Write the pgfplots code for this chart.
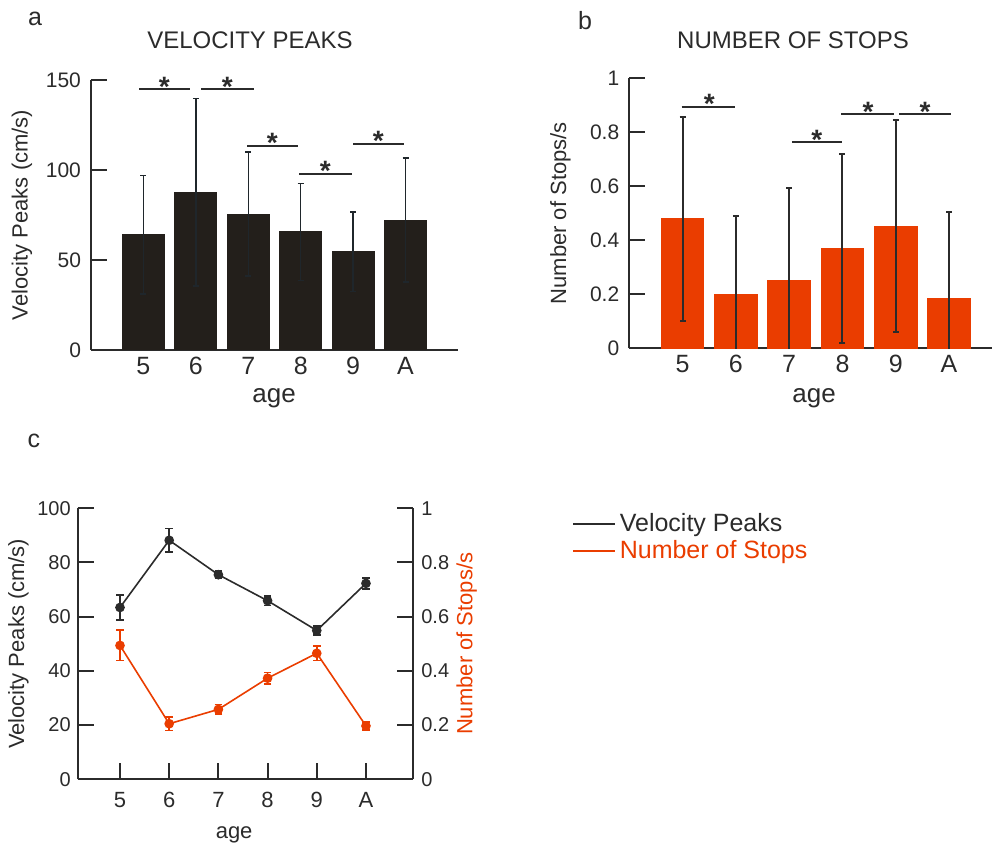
\documentclass[border=0pt]{standalone}
\usepackage{pgfplots}
\pgfplotsset{compat=1.18}
\usepackage{fontspec}
\setmainfont{Liberation Sans}
\definecolor{barblack}{HTML}{231F1B}
\definecolor{barorange}{HTML}{EA3D00}
\definecolor{txt}{HTML}{2B2B2B}
\definecolor{errc}{HTML}{1F262B}
\tikzset{
  sig/.style={line width=1pt, color=txt},
  star/.style={anchor=base, yshift=-3.4pt, text=txt, font=\fontsize{14}{14}\selectfont\bfseries},
}
\begin{document}
\begin{tikzpicture}
\path[use as bounding box] (0pt,0pt) rectangle (496pt,426pt);
\pgfplotsset{
  panel/.style={
    scale only axis, anchor=south west,
    axis x line*=bottom, axis y line*=left,
    axis line style={line width=1pt, color=txt},
    tick style={line width=1pt, color=txt},
    every tick label/.append style={text=txt},
    label style={text=txt, font=\fontsize{11}{13}\selectfont},
    /pgf/number format/assume math mode=true,
    tick align=inside,
    major tick length=8pt,
    clip mode=individual,
  },
}
% ---------------- panel a ----------------
\begin{axis}[panel, at={(45.5pt,251pt)}, width=183.5pt, height=135pt,
  xmin=0, xmax=7, ymin=0, ymax=150,
  xtick={1,...,6}, xticklabels={5,6,7,8,9,A},
  major x tick style={draw=none},
  ytick={0,50,100,150},
  y tick label style={font=\fontsize{10.5}{12}\selectfont, xshift=-1.5pt},
  x tick label style={font=\fontsize{12.5}{14}\selectfont},
  xlabel={age}, ylabel={Velocity Peaks (cm/s)},
  xlabel style={at={(axis description cs:0.499,-0.178)}, anchor=center, font=\fontsize{13}{15}\selectfont},
  ylabel style={at={(axis description cs:-0.188,0.5)}, anchor=center},
]
\addplot[ybar, bar width=0.8, fill=barblack, draw=barblack, line width=0pt,
  error bars/.cd, y dir=both, y explicit,
  error bar style={line width=0.75pt, color=errc},
  error mark options={rotate=90, mark size=1.5pt, line width=0.75pt, color=errc}]
coordinates {
 (1,64.0) +- (0,33.0)
 (2,87.6) +- (0,52.0)
 (3,75.5) +- (0,34.5)
 (4,65.6) +- (0,27.0)
 (5,54.6) +- (0,22.0)
 (6,72.2) +- (0,34.5)
};
\draw[sig] (axis cs:0.92,144.8) -- (axis cs:1.89,144.8);
\node[star] at (axis cs:1.40,144.8) {*};
\draw[sig] (axis cs:2.10,144.8) -- (axis cs:3.11,144.8);
\node[star] at (axis cs:2.60,144.8) {*};
\draw[sig] (axis cs:2.98,113.5) -- (axis cs:3.95,113.5);
\node[star] at (axis cs:3.46,113.5) {*};
\draw[sig] (axis cs:3.97,98) -- (axis cs:4.98,98);
\node[star] at (axis cs:4.47,98) {*};
\draw[sig] (axis cs:5.00,114.4) -- (axis cs:5.97,114.4);
\node[star] at (axis cs:5.48,114.4) {*};
\end{axis}
% ---------------- panel b ----------------
\begin{axis}[panel, at={(314.65pt,251.85pt)}, width=181.2pt, height=135pt,
  xmin=0, xmax=6.8, ymin=0, ymax=1,
  xtick={1,...,6}, xticklabels={5,6,7,8,9,A},
  major x tick style={draw=none},
  ytick={0,0.2,0.4,0.6,0.8,1},
  y tick label style={font=\fontsize{10.5}{12}\selectfont, xshift=-1.5pt},
  x tick label style={font=\fontsize{12.5}{14}\selectfont},
  xlabel={age}, ylabel={Number of Stops/s},
  xlabel style={at={(axis description cs:0.51,-0.185)}, anchor=center, font=\fontsize{13}{15}\selectfont},
  ylabel style={at={(axis description cs:-0.190,0.5)}, anchor=center},
]
\addplot[ybar, bar width=0.8, fill=barorange, draw=barorange, line width=0pt,
  error bars/.cd, y dir=both, y explicit,
  error bar style={line width=1pt, color=txt},
  error mark options={rotate=90, mark size=1.5pt, line width=1pt, color=txt}]
coordinates {
 (1,0.480) +- (0,0.378)
 (2,0.200) +- (0,0.289)
 (3,0.252) +- (0,0.342)
 (4,0.370) +- (0,0.350)
 (5,0.452) +- (0,0.392)
 (6,0.185) +- (0,0.320)
};
\draw[sig] (axis cs:0.98,0.895) -- (axis cs:1.99,0.895);
\node[star] at (axis cs:1.50,0.895) {*};
\draw[sig] (axis cs:3.05,0.763) -- (axis cs:4.00,0.763);
\node[star] at (axis cs:3.52,0.763) {*};
\draw[sig] (axis cs:3.98,0.867) -- (axis cs:4.97,0.867);
\node[star] at (axis cs:4.48,0.867) {*};
\draw[sig] (axis cs:5.07,0.867) -- (axis cs:6.03,0.867);
\node[star] at (axis cs:5.55,0.867) {*};
\end{axis}
% ---------------- panel c ----------------
\begin{axis}[panel, at={(38.85pt,36.35pt)}, width=167.5pt, height=135.5pt,
  xmin=0.14, xmax=6.95, ymin=0, ymax=100,
  xtick={1,...,6}, xticklabels={5,6,7,8,9,A},
  ytick={0,20,40,60,80,100},
  y tick label style={font=\fontsize{10}{12}\selectfont},
  x tick label style={font=\fontsize{11}{13}\selectfont, yshift=-3pt},
  xlabel={age}, ylabel={Velocity Peaks (cm/s)},
  xlabel style={at={(axis description cs:0.467,-0.206)}, anchor=center},
  ylabel style={at={(axis description cs:-0.177,0.5)}, anchor=center},
]
\addplot[color=txt, line width=0.8pt, mark=*, mark size=2pt,
  error bars/.cd, y dir=both, y explicit,
  error bar style={line width=0.8pt, color=txt},
  error mark options={rotate=90, mark size=1.9pt, line width=0.8pt, color=txt}]
coordinates {
 (1,63.4) +- (0,4.6)
 (2,88.2) +- (0,4.3)
 (3,75.5) +- (0,1.3)
 (4,65.9) +- (0,1.7)
 (5,54.9) +- (0,1.7)
 (6,72.3) +- (0,2.0)
};
\end{axis}
\begin{axis}[panel, at={(38.85pt,36.35pt)}, width=167.5pt, height=135.5pt,
  xmin=0.14, xmax=6.95, ymin=0, ymax=1,
  axis y line*=right, axis x line=none,
  ytick={0,0.2,0.4,0.6,0.8,1},
  y tick label style={font=\fontsize{10}{12}\selectfont, xshift=0.8pt},
  ylabel={Number of Stops/s},
  ylabel style={at={(axis description cs:1.161,0.5)}, anchor=center, text=barorange},
  legend style={at={(axis description cs:1.475,0.892)}, anchor=west, draw=none, fill=none,
    font=\fontsize{12.5}{14}\selectfont, inner sep=0pt, row sep=-1pt},
  legend cell align=left,
  legend image code/.code={\draw[#1] (0pt,0pt) -- (21pt,0pt);},
]
\addlegendimage{color=txt, line width=0.8pt}
\addlegendentry{\textcolor{txt}{Velocity Peaks}}
\addlegendimage{color=barorange, line width=0.8pt}
\addlegendentry{\textcolor{barorange}{Number of Stops}}
\addplot[forget plot, color=barorange, line width=0.8pt, mark=*, mark size=2pt,
  error bars/.cd, y dir=both, y explicit,
  error bar style={line width=0.8pt, color=barorange},
  error mark options={rotate=90, mark size=1.9pt, line width=0.8pt, color=barorange}]
coordinates {
 (1,0.494) +- (0,0.056)
 (2,0.205) +- (0,0.025)
 (3,0.258) +- (0,0.018)
 (4,0.373) +- (0,0.021)
 (5,0.465) +- (0,0.027)
 (6,0.197) +- (0,0.014)
};
\end{axis}
% titles and panel letters
\node[text=txt, font=\fontsize{12}{14}\selectfont] at (125pt,406pt) {VELOCITY PEAKS};
\node[text=txt, font=\fontsize{12}{14}\selectfont] at (396.5pt,406pt) {NUMBER OF STOPS};
\node[text=txt, font=\fontsize{12.5}{14}\selectfont] at (17.5pt,416.5pt) {a};
\node[text=txt, font=\fontsize{12.5}{14}\selectfont] at (292.5pt,415.5pt) {b};
\node[text=txt, font=\fontsize{12.5}{14}\selectfont] at (17pt,205.5pt) {c};
\end{tikzpicture}
\end{document}
